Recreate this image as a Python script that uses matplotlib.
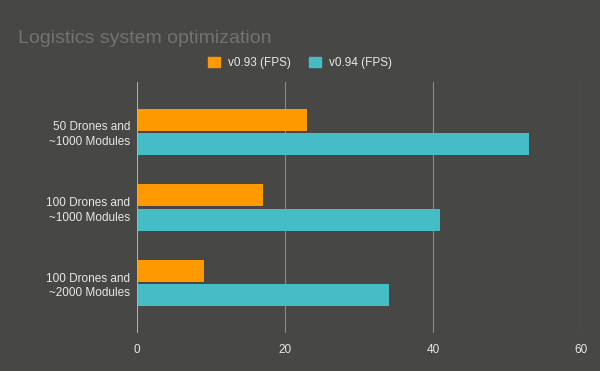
import numpy as np
import matplotlib.pyplot as plt
from matplotlib.patches import Patch

plt.rcParams['font.family'] = ['Liberation Sans', 'DejaVu Sans']

# data
categories = ["50 Drones and\n~1000 Modules",
              "100 Drones and\n~1000 Modules",
              "100 Drones and\n~2000 Modules"]
fps_v093 = [23, 17, 9]
fps_v094 = [53, 41, 34]
series_names = ["v0.93 (FPS)", "v0.94 (FPS)"]
x_ticks = [0, 20, 40, 60]

bg = "#474745"
orange = "#ff9900"
teal = "#46bdc6"
label_col = "#e8e8e8"

fig = plt.figure(figsize=(6, 3.71), dpi=100, facecolor=bg)
ax = fig.add_axes([0.2283, 0.1024, 0.74, 0.6766], facecolor=bg)

y = np.arange(len(categories))
h = 0.29
ax.barh(y - 0.16, fps_v093, height=h, color=orange, zorder=3)
ax.barh(y + 0.16, fps_v094, height=h, color=teal, zorder=3)

ax.set_xlim(0, 60)
ax.set_ylim(2.66, -0.66)
ax.set_xticks(x_ticks)
ax.set_yticks(y)
ax.set_yticklabels(categories, linespacing=1.3)
ax.tick_params(axis="both", length=0, colors=label_col, labelsize=8.5)
ax.tick_params(axis="x", pad=8)
ax.tick_params(axis="y", pad=5)
for lab in ax.get_yticklabels():
    lab.set_horizontalalignment("right")
    lab.set_multialignment("right")

ax.grid(axis="x", color="#8a8a8a", linewidth=0.8, zorder=0)
for s in ax.spines.values():
    s.set_visible(False)
ax.axvline(0, color="#b8b8b8", linewidth=1.2, zorder=4)

fig.text(0.03, 0.895, "Logistics system optimization", color="#727272",
         fontsize=14, ha="left", va="center")

handles = [Patch(color=orange, label=series_names[0]),
           Patch(color=teal, label=series_names[1])]
fig.legend(handles=handles, loc="center", bbox_to_anchor=(0.5, 0.83), ncol=2,
           frameon=False, fontsize=8.5, labelcolor=label_col,
           handlelength=1.0, handleheight=1.0, handletextpad=0.7,
           columnspacing=1.5)

fig.savefig("out.png", dpi=100, facecolor=bg)
